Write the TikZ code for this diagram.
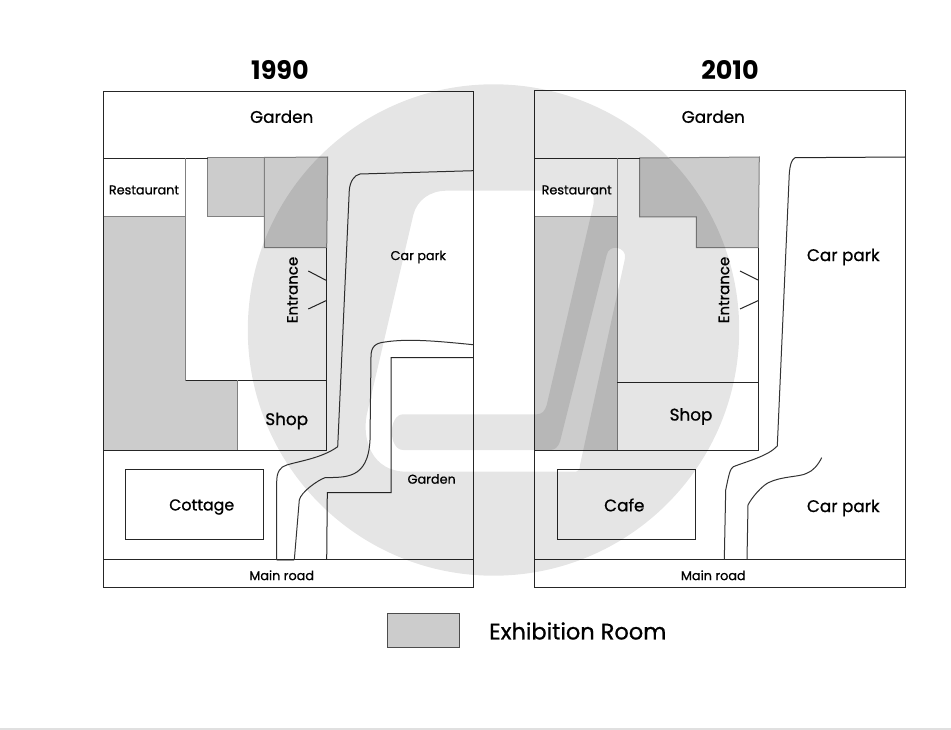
\documentclass[tikz,border=0pt]{standalone}
\usepackage{fontspec}
\setmainfont[FakeBold=0.8]{Poppins}
\newfontfamily\titlefont{Poppins}
\begin{document}
\begin{tikzpicture}[x=1pt,y=-1pt]
        \tikzstyle{room}=[draw=black!50,fill=black!20,line width=1pt]
        \tikzstyle{wall}=[draw=black!85,line width=1pt]
        \tikzstyle{road}=[draw=black!80,line width=1pt]
        \tikzstyle{title}=[inner sep=0pt,font=\fontsize{25.5}{28}\titlefont\bfseries]
        \tikzstyle{big}=[inner sep=0pt,font=\fontsize{16.8}{18}\selectfont]
        \tikzstyle{small}=[inner sep=0pt,font=\fontsize{12.8}{14}\selectfont]

        \useasboundingbox (0,0) rectangle (951,730);
        \fill[white] (0,0) rectangle (951,730);
        \fill[black!12] (0,728) rectangle (951,730);

        % 1990
        \draw[room] (103,217) -- (185.7,217) -- (185.7,380) -- (237.7,380) -- (237.7,450) -- (103,450) -- cycle;
        \draw[room] (207.7,158) -- (264.3,158) -- (264.3,217) -- (207.7,217) -- cycle;
        \draw[room] (264.3,157.5) -- (327.7,157) -- (326.7,247.7) -- (264.3,247.7) -- cycle;
        \draw[wall] (103,91.5) rectangle (473.3,587.3);
        \draw[wall] (103,158.3) -- (207.7,158.3);
        \draw[wall] (103,559.7) -- (473.3,559.7);
        \draw[wall] (103,450) -- (326.7,450) -- (326.7,247.7);
        \draw[wall] (185.7,380) -- (326.7,380);
        \draw[room,fill=none] (185.7,158.3) -- (185.7,217);
        \draw[room,fill=none] (237.7,380) -- (237.7,450);
        \draw[wall] (125.3,469.3) rectangle (263.3,539.3);
        \draw[wall] (308.3,271) -- (326,280.3);
        \draw[wall] (308.3,309) -- (326,300.7);
        \draw[road] (473.3,170.7) -- (360,174) .. controls (354,175) and (350,182) .. (349.3,190) -- (337.7,446.7)
            .. controls (322,458) and (300,461) .. (286.7,465) .. controls (280,467) and (276.7,472) .. (276.7,482) -- (276.7,560);
        \draw[road,draw=black!40] (276.7,560) -- (294.3,560);
        \draw[road] (294.3,560) -- (299.3,500) .. controls (301,492) and (318,480) .. (325,477.7)
            .. controls (345,477) and (368,480) .. (370,440) -- (371,356.7)
            .. controls (371,346) and (376,343) .. (385,342) .. controls (410,338) and (445,342) .. (473.3,344.7);
        \draw[wall] (473.3,357.7) -- (391,357.7) -- (391,492.7) -- (327.3,492.7) -- (326.7,559.7);

        \node[title] (year1) at (280,70) {1990};
        \node[big] (garden1) at (281.7,116.7) {Garden};
        \node[small] (rest1) at (144,190) {Restaurant};
        \node[small] (park1) at (418.3,257) {Car park};
        \node[big,font=\fontsize{15}{18}\selectfont,rotate=90] (entr1) at (292.5,290) {Entrance};
        \node[big] (shop1) at (286.7,421) {Shop};
        \node[big,font=\fontsize{15.8}{18}\selectfont] (cott1) at (201.7,507) {Cottage};
        \node[small] (garden2) at (431.7,479) {Garden};
        \node[small] (road1) at (281.7,575.3) {Main road};

        % 2010
        \draw[room] (534.7,217) -- (617,217) -- (617,450) -- (534.7,450) -- cycle;
        \draw[room] (639.7,158) -- (759.3,157) -- (758.3,247.7) -- (696.3,247.7) -- (696.3,217) -- (639.7,217) -- cycle;
        \draw[wall] (534.7,90.7) rectangle (905,587.3);
        \draw[wall] (534.7,158.3) -- (639.7,158.3);
        \draw[wall] (795,157.7) -- (905,157);
        \draw[wall] (534.7,559.7) -- (905,559.7);
        \draw[wall] (534.7,450) -- (758.3,450) -- (758.3,247.7);
        \draw[wall] (617,382.7) -- (758.3,382.7);
        \draw[room,fill=none] (617,158.3) -- (617,217);
        \draw[wall] (557,469.3) rectangle (695,539.3);
        \draw[wall] (740,271) -- (758,280);
        \draw[wall] (740,309) -- (758,300.7);
        \draw[road] (795,157.7) .. controls (791,160) and (790,166) .. (789.3,173.3) -- (777.3,446)
            .. controls (768,456) and (748,461) .. (733.3,466.7) .. controls (730,469) and (729,474) .. (725.7,490) -- (724.3,559.7);
        \draw[road] (747,559.7) -- (748,505) .. controls (752,497) and (762,486) .. (768.3,482.7)
            .. controls (782,476) and (800,477) .. (806.7,473.3) .. controls (813,471) and (818,465) .. (821.7,457.7);

        \node[title] (year2) at (730,70) {2010};
        \node[big] (garden3) at (713.3,116.7) {Garden};
        \node[small] (rest2) at (576.7,190) {Restaurant};
        \node[big] (park2) at (843.3,257) {Car park};
        \node[big,font=\fontsize{15}{18}\selectfont,rotate=90] (entr2) at (724,290) {Entrance};
        \node[big] (shop2) at (691,416.5) {Shop};
        \node[big] (cafe) at (624.3,505) {Cafe};
        \node[big] (park3) at (843.3,508) {Car park};
        \node[small] (road2) at (713.3,575.3) {Main road};

        % legend
        \node[draw=black!70,fill=black!20,line width=1pt,minimum width=71.7pt,minimum height=34.3pt,inner sep=0pt] (key) at (423.2,630.8) {};
        \node[inner sep=0pt,anchor=west,font=\fontsize{22.5}{24}\selectfont] (keytext) at (489,631) {Exhibition Room};

        % watermark
        \fill[black,fill opacity=0.1,even odd rule] (493.5,330) circle [radius=245.7]
            (446.7,190.7) .. controls (430,190.7) and (417,200) .. (413.3,215) -- (366.7,415)
            .. controls (362,440) and (372,471.7) .. (406.7,471.7) -- (576,471.7)
            .. controls (579,471.7) and (580,469) .. (580,465) -- (625,258.3)
            .. controls (627,247) and (609,243) .. (606.7,255) -- (560,441.7)
            .. controls (558,447) and (555,450) .. (550,450) -- (403.3,450)
            .. controls (388,450) and (388,414.3) .. (403.3,414.3) -- (536.7,414.3)
            .. controls (542,414.3) and (545,411) .. (546.7,405) -- (593.3,205)
            .. controls (595,196) and (592,190.7) .. (586.7,190.7) -- cycle;
    \end{tikzpicture}
\end{document}
